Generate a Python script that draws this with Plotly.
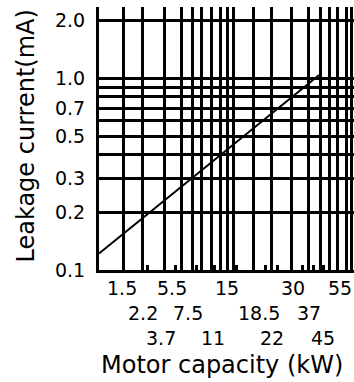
import math
import plotly.graph_objects as go

# leakage current line (kW, mA)
line_kw = [1, 55]
line_ma = [0.122, 1.04]

# vertical grid lines of the printed grid (kW)
grid_kw = [1.55, 2.2, 3.3, 4.45, 5.45, 6.45, 7.7, 9.2, 10.3, 11.5,
           16.5, 23.3, 33, 45, 56, 67, 77.5, 90, 100]
# short marks on the bottom axis (kW)
mark_kw = [2.4, 4.0, 5.85, 8.15, 12.3, 20.8, 25.7, 40.8, 50, 60]

# motor capacity labels, where they sit along the axis, and which row
cap_labels = ["1.5", "2.2", "3.7", "5.5", "7.5", "11", "15", "18.5", "22",
              "30", "37", "45", "55"]
cap_pos = [1.52, 2.23, 3.09, 3.78, 5.05, 7.96, 10.3, 18.4, 23.3,
           34.2, 45.7, 59, 80.4]
cap_row = [0, 1, 2, 0, 1, 2, 0, 1, 2, 0, 1, 2, 0]

# horizontal grid (mA)
y_grid = [0.1, 0.2, 0.3, 0.4, 0.5, 0.6, 0.7, 0.8, 0.9, 1.0, 2.0]
y_text = ["0.1", "0.2", "0.3", "", "0.5", "", "0.7", "", "", "1.0", "2.0"]

FONT = "DejaVu Sans"

fig = go.Figure()
fig.add_trace(go.Scatter(
    x=line_kw, y=line_ma, mode="lines",
    line=dict(color="black", width=2),
    showlegend=False, hoverinfo="skip",
))

fig.update_xaxes(
    type="log", range=[0, 2.016],
    tickmode="array", tickvals=grid_kw, showticklabels=False, ticks="",
    showgrid=True, gridcolor="black", gridwidth=3,
    showline=True, linecolor="black", linewidth=3,
    zeroline=False,
    minor=dict(tickmode="array", tickvals=mark_kw, ticks="inside",
               ticklen=5, tickwidth=3, tickcolor="black", showgrid=False),
)
fig.update_yaxes(
    type="log", range=[-1, 0.372],
    tickmode="array", tickvals=y_grid, ticktext=y_text, ticks="",
    ticklabelstandoff=7,
    tickfont=dict(family=FONT, size=19, color="black"),
    showgrid=True, gridcolor="black", gridwidth=3,
    showline=True, linecolor="black", linewidth=3,
    zeroline=False,
)

annos = []
for lab, pos, row in zip(cap_labels, cap_pos, cap_row):
    annos.append(dict(
        x=math.log10(pos), xref="x", y=0, yref="paper",
        text=lab, showarrow=False, xanchor="center", yanchor="middle",
        yshift=-18 - 25 * row,
        font=dict(family=FONT, size=19, color="black"),
    ))
annos.append(dict(
    x=0.5, xref="paper", y=0, yref="paper", xshift=-5, yshift=-95,
    text="Motor capacity (kW)", showarrow=False,
    xanchor="center", yanchor="middle",
    font=dict(family=FONT, size=24, color="black"),
))
annos.append(dict(
    x=0, xref="paper", y=0.5, yref="paper", xshift=-74, yshift=2,
    text="Leakage current(mA)", showarrow=False, textangle=-90,
    xanchor="center", yanchor="middle",
    font=dict(family=FONT, size=24, color="black"),
))

fig.update_layout(
    width=354, height=382,
    margin=dict(l=99, r=0, t=7, b=112),
    paper_bgcolor="white", plot_bgcolor="white",
    annotations=annos,
    showlegend=False,
)

fig.write_html("out.html", config={"displayModeBar": False},
               post_script="document.body.style.margin='0';")
